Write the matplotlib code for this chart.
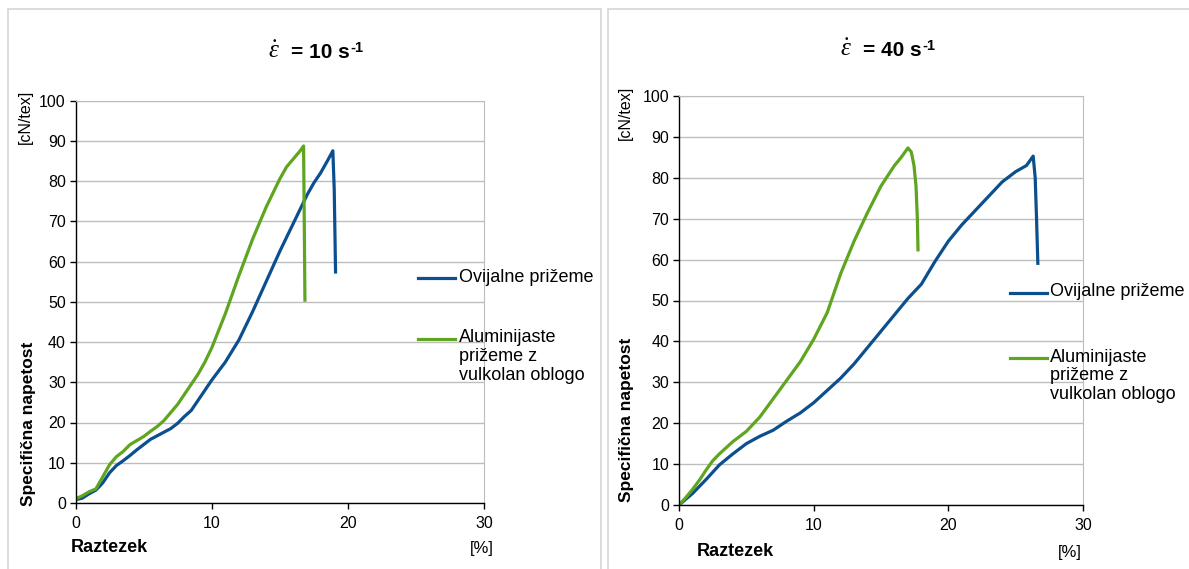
import numpy as np
import matplotlib
matplotlib.use("Agg")
import matplotlib.pyplot as plt
from matplotlib.lines import Line2D
from matplotlib.patches import Rectangle
from matplotlib.text import Annotation

plt.rcParams['font.family'] = ['Liberation Sans', 'DejaVu Sans']
plt.rcParams['mathtext.fontset'] = 'custom'
plt.rcParams['mathtext.rm'] = 'Liberation Serif:italic'
plt.rcParams['mathtext.it'] = 'Liberation Serif:italic'

# strain rate 10 1/s
x10_ovij = [0, 0.5, 1, 1.5, 2, 2.5, 3, 3.5, 4, 4.5, 5, 5.5, 6, 6.5, 7, 7.5, 8, 8.5, 9, 9.5,
            10, 11, 12, 13, 14, 15, 16, 17, 17.5, 18, 18.5, 18.9, 19.0, 19.1]
y10_ovij = [0.8, 1.2, 2.3, 3.2, 5, 7.5, 9.3, 10.5, 11.8, 13.2, 14.5, 15.8, 16.7, 17.6, 18.5, 19.8,
            21.5, 23, 25.5, 28, 30.5, 35, 40.5, 47.5, 55, 62.5, 69.5, 76.5, 79.5, 82, 85, 87.5, 78, 57]
x10_alu = [0, 0.5, 1, 1.5, 2, 2.5, 3, 3.5, 4, 4.5, 5, 5.5, 6, 6.5, 7, 7.5, 8, 8.5, 9, 9.5,
           10, 11, 12, 13, 14, 15, 15.5, 16, 16.5, 16.75, 16.8, 16.85]
y10_alu = [1, 1.8, 2.8, 3.5, 6.5, 9.5, 11.5, 12.8, 14.5, 15.5, 16.5, 17.8, 19, 20.5, 22.5, 24.5,
           27, 29.5, 32, 35, 38.5, 47, 56.5, 65.5, 73.5, 80.5, 83.5, 85.5, 87.5, 88.7, 70, 50]

# strain rate 40 1/s
x40_ovij = [0, 1, 2, 3, 4, 5, 6, 7, 8, 9, 10, 11, 12, 13, 14, 15, 16, 17, 18, 19, 20,
            21, 22, 23, 24, 25, 25.8, 26.3, 26.45, 26.55, 26.65]
y40_ovij = [0, 2.8, 6.2, 9.8, 12.5, 15, 16.8, 18.3, 20.5, 22.5, 25, 28, 31, 34.5, 38.5, 42.5,
            46.5, 50.5, 54, 59.5, 64.5, 68.5, 72, 75.5, 79, 81.5, 83, 85.3, 80, 70, 58.7]
x40_alu = [0, 0.5, 1, 1.5, 2, 2.5, 3, 3.5, 4, 5, 6, 7, 8, 9, 10, 11, 12, 13, 14, 15, 16,
           16.5, 17, 17.25, 17.45, 17.6, 17.7, 17.75]
y40_alu = [0, 1.8, 3.8, 6, 8.5, 10.8, 12.5, 14, 15.5, 18, 21.5, 26, 30.5, 35, 40.5, 47,
           56.5, 64.5, 71.5, 78, 83, 85, 87.3, 86.3, 83, 78, 70, 62]

labels = ["Ovijalne prižeme", "Aluminijaste\nprižeme z\nvulkolan oblogo"]
colors = ["#0B4F8E", "#5FA51F"]
rates = ["10", "40"]

W, H = 1189, 569
fig = plt.figure(figsize=(W / 100, H / 100), dpi=100)

# panel frames
for x0, x1 in [(8, 601), (608, 1195)]:
    fig.add_artist(Rectangle((x0 / W, -0.05), (x1 - x0) / W, 1.05 - 9 / H,
                             transform=fig.transFigure, fill=False,
                             edgecolor="#D6D6D6", linewidth=1.2))

panels = [
    dict(rect=[75.5 / W, (H - 503) / H, 408.5 / W, 402.5 / H],
         data=[(x10_ovij, y10_ovij), (x10_alu, y10_alu)],
         title_xy=(268, 58), leg=(418, 455, 459, 278, 339),
         ylab=(28, 424), unit=(25, 90), xlab=(71, 548), pct=(470, 548)),
    dict(rect=[679 / W, (H - 505) / H, 404 / W, 409 / H],
         data=[(x40_ovij, y40_ovij), (x40_alu, y40_alu)],
         title_xy=(840, 56), leg=(1010, 1047, 1050, 293, 358),
         ylab=(627, 420), unit=(625, 86), xlab=(697, 552), pct=(1058, 552)),
]

for i, p in enumerate(panels):
    ax = fig.add_axes(p["rect"])
    for (xs, ys), c in zip(p["data"], colors):
        ax.plot(xs, ys, color=c, linewidth=2.3, solid_capstyle="butt")
    ax.set_xlim(0, 30)
    ax.set_ylim(0, 100)
    ax.set_xticks([0, 10, 20, 30])
    ax.set_yticks(np.arange(0, 101, 10))
    ax.yaxis.grid(True, color="#BDBDBD", linewidth=1)
    ax.set_axisbelow(True)
    for s in ["top", "right"]:
        ax.spines[s].set_color("#BDBDBD")
    for s in ["left", "bottom"]:
        ax.spines[s].set_color("black")
        ax.spines[s].set_linewidth(1)
    ax.tick_params(axis="both", direction="out", length=4, width=1,
                   labelsize=11.5, pad=5, colors="black")
    ax.tick_params(axis="y", pad=3)

    # title: epsilon dot = N s^-1
    tx, ty = p["title_xy"]
    fig.text(tx / W, 1 - ty / H, r"$\dot{\varepsilon}$", ha="left",
             va="baseline", fontsize=18)
    t2 = fig.text((tx + 23) / W, 1 - ty / H, "= " + rates[i] + " s", ha="left",
                  va="baseline", fontsize=15, fontweight="bold")
    fig.add_artist(Annotation("-1", xy=(1, 1), xycoords=t2, xytext=(0.5, 2),
                              textcoords="offset pixels", ha="left", va="top",
                              fontsize=10.5, fontweight="bold"))

    # legend drawn beside the plot area
    lx0, lx1, tx0, yb, yg = p["leg"]
    for yy, c, lab in zip([yb, yg], colors, labels):
        fig.add_artist(Line2D([lx0 / W, lx1 / W], [1 - yy / H, 1 - yy / H],
                              transform=fig.transFigure, color=c, linewidth=2.3))
        fig.text(tx0 / W, 1 - (yy - 9.5) / H, lab, ha="left", va="top",
                 fontsize=13, linespacing=1.15)

    yx, yy = p["ylab"]
    fig.text(yx / W, 1 - yy / H, "Specifična napetost", rotation=90,
             ha="center", va="center", fontsize=12.5, fontweight="bold")
    ux, uy = p["unit"]
    fig.text(ux / W, 1 - uy / H, "[cN/tex]", rotation=90,
             ha="center", va="top", fontsize=11.5)
    xx, xy = p["xlab"]
    fig.text(xx / W, 1 - xy / H, "Raztezek", ha="left", va="center",
             fontsize=13, fontweight="bold")
    px_, py_ = p["pct"]
    fig.text(px_ / W, 1 - py_ / H, "[%]", ha="left", va="center", fontsize=12)

fig.savefig("out.png", dpi=100)
